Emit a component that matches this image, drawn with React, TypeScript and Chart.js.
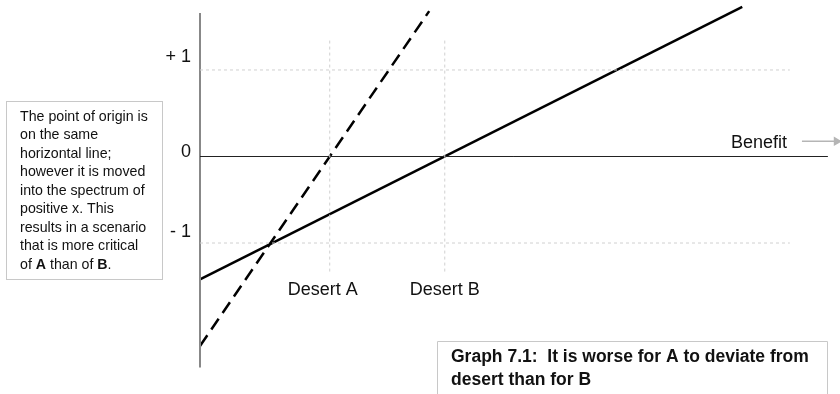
import React, { useEffect, useRef } from "react";
import { Chart, registerables } from "chart.js";

Chart.register(...registerables);

// ---- data ----
const solidX = [0, 6.27];
const solidY = [-1.42, 1.73];
const dashedX = [0, 2.65];
const dashedY = [-2.19, 1.68];
const desertNames = ["Desert A", "Desert B"];
const desertX = [1.5, 2.83];
const yTickValues = [1, 0, -1];
const yTickLabels = ["+ 1", "0", "- 1"];
const axisLabel = "Benefit";
const noteLines = [
  "The point of origin is",
  "on the same",
  "horizontal line;",
  "however it is moved",
  "into the spectrum of",
  "positive x. This",
  "results in a scenario",
  "that is more critical",
  "of **A** than of **B**.",
];
const captionLines = ["Graph 7.1:  It is worse for A to deviate from", "desert than for B"];

const X_MIN = 0, X_MAX = 7.4, Y_MIN = -2.7451, Y_MAX = 1.8089;
const GRID_X_END = 6.82;
const ZERO_X_END = 7.26;
const VGRID_TOP = 1.34, VGRID_BOTTOM = -1.33;
const YAXIS_TOP = 1.66, YAXIS_BOTTOM = -2.44;

const FONT = "'Liberation Sans', Arial, sans-serif";
const TEXT = "#111";

function seg(x1: number, y1: number, x2: number, y2: number) {
  return [{ x: x1, y: y1 }, { x: x2, y: y2 }];
}

const textPlugin = {
  id: "texts",
  afterDatasetsDraw(chart: any) {
    const ctx = chart.ctx as CanvasRenderingContext2D;
    const xs = chart.scales.x, ys = chart.scales.y;
    ctx.save();
    ctx.fillStyle = TEXT;
    // y tick labels
    ctx.font = `18px ${FONT}`;
    ctx.textAlign = "right";
    ctx.textBaseline = "middle";
    const offs = [-13, -4, -11];
    yTickValues.forEach((v, i) => {
      ctx.fillText(yTickLabels[i], 191, ys.getPixelForValue(v) + offs[i]);
    });
    // desert labels
    ctx.textAlign = "center";
    const dOffs = [-7, 0];
    desertNames.forEach((n, i) => {
      ctx.fillText(n, xs.getPixelForValue(desertX[i]) + dOffs[i], ys.getPixelForValue(VGRID_BOTTOM) + 18);
    });
    // Benefit
    ctx.textAlign = "left";
    ctx.fillText(axisLabel, 731, ys.getPixelForValue(0) - 13);

    // note box
    ctx.strokeStyle = "#c8c8c8";
    ctx.lineWidth = 1;
    ctx.strokeRect(6.5, 101.5, 156, 178);
    ctx.textAlign = "left";
    ctx.textBaseline = "middle";
    noteLines.forEach((line, i) => {
      const y = 117 + i * 18.5;
      let x = 20;
      const parts = line.split("**");
      parts.forEach((p, j) => {
        ctx.font = `${j % 2 === 1 ? "bold " : ""}14.2px ${FONT}`;
        ctx.fillText(p, x, y);
        x += ctx.measureText(p).width;
      });
    });

    // caption box
    ctx.strokeStyle = "#c8c8c8";
    ctx.beginPath();
    ctx.moveTo(437.5, 400);
    ctx.lineTo(437.5, 341.5);
    ctx.lineTo(827.5, 341.5);
    ctx.lineTo(827.5, 400);
    ctx.stroke();
    ctx.font = `bold 17.5px ${FONT}`;
    captionLines.forEach((l, i) => {
      ctx.fillText(l, 451, 357 + i * 23);
    });
    ctx.restore();
  },
};

export default function App() {
  const ref = useRef<HTMLCanvasElement | null>(null);
  useEffect(() => {
    document.body.style.margin = "0";
    const grid = { borderColor: "#d0d0d0", borderWidth: 1, borderDash: [3, 3], pointRadius: 0, fill: false, clip: false as any };
    const datasets: any[] = [
      ...yTickValues.filter((v) => v !== 0).map((v) => ({ ...grid, data: seg(0, v, GRID_X_END, v) })),
      ...desertX.map((x) => ({ ...grid, data: seg(x, VGRID_BOTTOM, x, VGRID_TOP) })),
      { data: seg(0, 0, ZERO_X_END, 0), borderColor: "#222", borderWidth: 1, pointRadius: 0, clip: false },
      { data: seg(0, YAXIS_BOTTOM, 0, YAXIS_TOP), borderColor: "#888", borderWidth: 2, pointRadius: 0, clip: false },
      {
        data: seg(6.96, 0.175, 7.36, 0.175),
        borderColor: "#b5b5b5",
        borderWidth: 1.5,
        pointRadius: [0, 4],
        pointStyle: "triangle",
        rotation: 90,
        pointBackgroundColor: "#b5b5b5",
        pointBorderColor: "#b5b5b5",
        clip: false,
      },
      {
        data: solidX.map((x, i) => ({ x, y: solidY[i] })),
        borderColor: "#000",
        borderWidth: 2.5,
        pointRadius: 0,
        clip: false,
      },
      {
        data: dashedX.map((x, i) => ({ x, y: dashedY[i] })),
        borderColor: "#000",
        borderWidth: 2.5,
        borderDash: [13, 7],
        pointRadius: 0,
        clip: false,
      },
    ];
    const chart = new Chart(ref.current!, {
      type: "line",
      data: { datasets },
      options: {
        animation: false,
        responsive: false,
        devicePixelRatio: 1,
        layout: { autoPadding: false, padding: { left: 200, right: 0, top: 0, bottom: 0 } },
        plugins: { legend: { display: false }, tooltip: { enabled: false } },
        scales: {
          x: { type: "linear", min: X_MIN, max: X_MAX, display: false },
          y: { type: "linear", min: Y_MIN, max: Y_MAX, display: false },
        },
        events: [],
      },
      plugins: [textPlugin],
    });
    return () => chart.destroy();
  }, []);
  return (
    <div style={{ position: "absolute", left: 0, top: 0, width: 840, height: 394, background: "#fff" }}>
      <canvas ref={ref} width={840} height={394} />
    </div>
  );
}
